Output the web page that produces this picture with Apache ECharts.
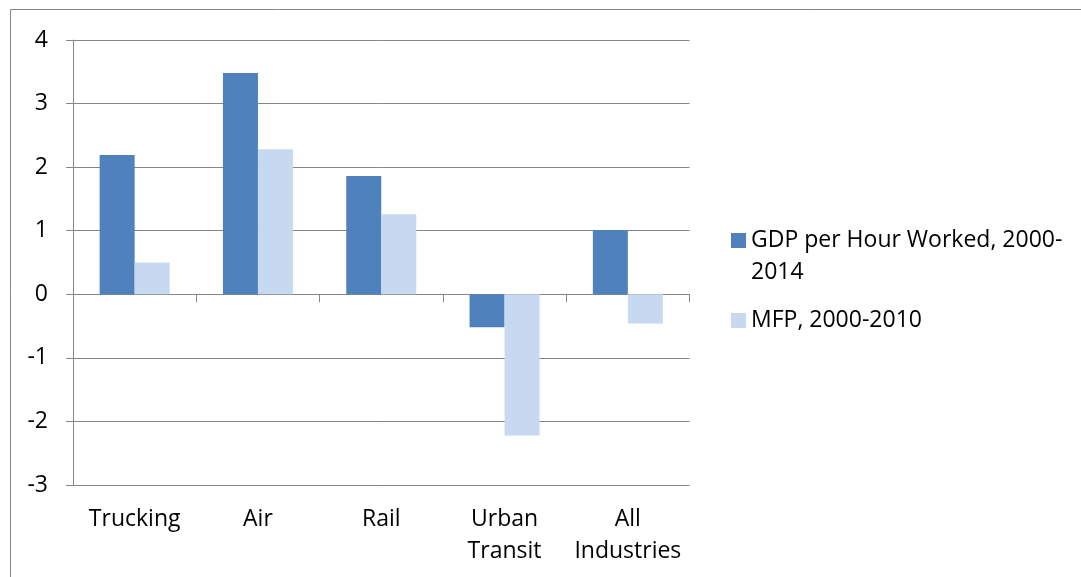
<!DOCTYPE html>
<html>
<head>
<meta charset="utf-8">
<script src="https://cdn.jsdelivr.net/npm/echarts@6/dist/echarts.min.js"></script>
<style>
html,body{margin:0;padding:0;background:#fff;}
#chart{width:1081px;height:577px;}
</style>
</head>
<body>
<div id="chart"></div>
<script>
var categories = ['Trucking', 'Air', 'Rail', 'Urban\nTransit', 'All\nIndustries'];
var gdpName = 'GDP per Hour Worked, 2000-2014';
var mfpName = 'MFP, 2000-2010';
var gdpValues = [2.19, 3.48, 1.86, -0.52, 1.01];
var mfpValues = [0.50, 2.28, 1.26, -2.22, -0.46];
var yTicks = [-3, -2, -1, 0, 1, 2, 3, 4];

var FONT = 'Open Sans';
var FS = 23;
var GRAY = '#868686';
var chart = echarts.init(document.getElementById('chart'), null, {renderer: 'canvas'});
chart.setOption({
  animation: false,
  backgroundColor: '#ffffff',
  textStyle: {fontFamily: FONT},
  graphic: [{
    type: 'rect',
    shape: {x: 10.5, y: 9.5, width: 1200, height: 700},
    style: {fill: 'none', stroke: GRAY, lineWidth: 1},
    silent: true
  }],
  legend: [{
    data: [gdpName],
    left: 731, top: 192.5, padding: 0,
    itemWidth: 15, itemHeight: 15, itemGap: 7,
    icon: 'rect',
    formatter: function () { return ' \nGDP per Hour Worked, 2000-\n2014'; },
    textStyle: {fontFamily: FONT, fontSize: FS, color: '#000', lineHeight: 32}
  }, {
    data: [mfpName],
    left: 731, top: 304.5, padding: 0,
    itemWidth: 15, itemHeight: 15,
    icon: 'rect',
    textStyle: {fontFamily: FONT, fontSize: FS, color: '#000', lineHeight: 32}
  }],
  grid: {left: 73, top: 40, right: 391.5, bottom: 92, containLabel: false},
  xAxis: [{
    type: 'category',
    data: categories,
    position: 'bottom',
    axisLine: {show: false, onZero: false},
    axisTick: {show: false},
    axisLabel: {fontFamily: FONT, fontSize: FS, color: '#000', lineHeight: 32, margin: 18, interval: 0}
  }, {
    type: 'category',
    data: categories,
    position: 'bottom',
    axisLine: {show: true, onZero: true, lineStyle: {color: GRAY, width: 1}},
    axisTick: {show: true, length: 8, lineStyle: {color: GRAY}},
    axisLabel: {show: false}
  }],
  yAxis: {
    type: 'value',
    min: yTicks[0], max: yTicks[yTicks.length - 1], interval: 1,
    axisLine: {show: true, lineStyle: {color: GRAY, width: 1}},
    axisTick: {show: true, length: 7, lineStyle: {color: GRAY}},
    splitLine: {show: true, lineStyle: {color: GRAY, width: 1}},
    axisLabel: {fontFamily: FONT, fontSize: FS, color: '#000', margin: 25}
  },
  series: [{
    name: gdpName,
    type: 'bar',
    xAxisIndex: 0,
    data: gdpValues,
    barWidth: 35,
    barGap: '0%',
    itemStyle: {color: '#4F81BD'}
  }, {
    name: mfpName,
    type: 'bar',
    xAxisIndex: 0,
    data: mfpValues,
    barWidth: 35,
    barGap: '0%',
    itemStyle: {color: '#C6D9F1'}
  }]
});
</script>
</body>
</html>
